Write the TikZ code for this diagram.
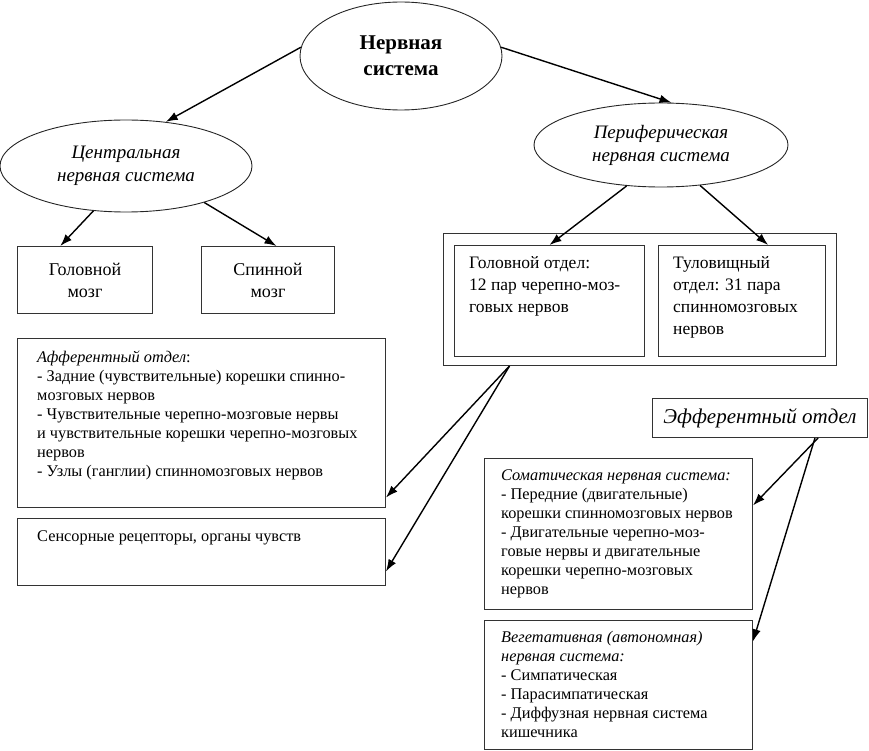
\documentclass[tikz,border=0pt]{standalone}
\usepackage{fontspec}
\setmainfont{Liberation Serif}
\usetikzlibrary{arrows.meta,shapes.geometric}

\tikzset{
  oval/.style={draw=black!85, line width=0.9pt, ellipse, inner sep=0pt, align=center},
  box/.style={draw=black!80, line width=1pt, rectangle, inner sep=0pt, anchor=north west},
  txt/.style={inner sep=0pt, anchor=north west, align=left},
  arr/.style={line width=1.4pt, -{Latex[length=12pt,width=8.5pt]}}
}

\begin{document}
\begin{tikzpicture}[x=1pt, y=-1pt]
			%%%%% START %%%%%
			\useasboundingbox (0,0) rectangle (869,751);
			
			% ellipses
			\node[oval, minimum width=202pt, minimum height=108pt, font=\fontsize{21}{26}\selectfont\bfseries] (nervsys) at (401,56)
				{Нервная\\система};
			\node[oval, minimum width=252pt, minimum height=92pt, font=\fontsize{19}{23}\selectfont\itshape] (cns) at (126,166)
				{Центральная\\нервная система};
			\node[oval, minimum width=254pt, minimum height=84pt, font=\fontsize{19}{23}\selectfont\itshape] (pns) at (661,145)
				{Периферическая\\нервная система};
			
			% brain and spine
			\node[box, minimum width=135pt, minimum height=67pt, align=center, font=\fontsize{18}{22}\selectfont] (brain) at (17,246)
				{Головной\\мозг};
			\node[box, minimum width=133pt, minimum height=67pt, align=center, font=\fontsize{18}{22}\selectfont] (spine) at (201,246)
				{Спинной\\мозг};
			
			% peripheral divisions
			\node[box, minimum width=393pt, minimum height=132pt] (pnsouter) at (443,233) {};
			\node[box, minimum width=190pt, minimum height=111pt] (headdiv) at (454,245) {};
			\node[box, minimum width=167pt, minimum height=111pt] (trunkdiv) at (658,245) {};
			\node[txt, font=\fontsize{17.5}{22}\selectfont] (headtxt) at ([xshift=15pt,yshift=-11pt]headdiv.north west)
				{Головной отдел:\\12 пар черепно-моз-\\говых нервов};
			\node[txt, font=\fontsize{17.5}{22}\selectfont] (trunktxt) at ([xshift=15pt,yshift=-11pt]trunkdiv.north west)
				{Туловищный\\отдел: 31 пара\\спинномозговых\\нервов};
			
			% afferent side
			\node[box, minimum width=368pt, minimum height=169pt] (afferent) at (17,338) {};
			\node[txt, font=\fontsize{16.3}{19}\selectfont] (afftxt) at ([xshift=20pt,yshift=-13pt]afferent.north west)
				{\textit{Афферентный отдел}:\\
				- Задние (чувствительные) корешки спинно-\\
				мозговых нервов\\
				- Чувствительные черепно-мозговые нервы\\
				и чувствительные корешки черепно-мозговых\\
				нервов\\
				- Узлы (ганглии) спинномозговых нервов};
			\node[box, minimum width=368pt, minimum height=67pt] (sensory) at (17,518) {};
			\node[txt, font=\fontsize{16.3}{19}\selectfont] (senstxt) at ([xshift=20pt,yshift=-13pt]sensory.north west)
				{Сенсорные рецепторы, органы чувств};
			
			% efferent side
			\node[box, minimum width=215pt, minimum height=39pt, font=\fontsize{21}{25}\selectfont\itshape] (efferent) at (652,398)
				{\makebox[215pt]{Эфферентный отдел}};
			\node[box, minimum width=268pt, minimum height=151pt] (somatic) at (484,458) {};
			\node[txt, font=\fontsize{16.3}{19}\selectfont] (somtxt) at ([xshift=17pt,yshift=-12pt]somatic.north west)
				{\textit{Соматическая нервная система:}\\
				- Передние (двигательные)\\
				корешки спинномозговых нервов\\
				- Двигательные черепно-моз-\\
				говые нервы и двигательные\\
				корешки черепно-мозговых\\
				нервов};
			\node[box, minimum width=268pt, minimum height=129pt] (vegetative) at (484,620) {};
			\node[txt, font=\fontsize{16.3}{19}\selectfont] (vegtxt) at ([xshift=17pt,yshift=-11pt]vegetative.north west)
				{\textit{Вегетативная (автономная)}\\
				\textit{нервная система:}\\
				- Симпатическая\\
				- Парасимпатическая\\
				- Диффузная нервная система\\
				кишечника};
			
			% arrows
			\draw[arr] (nervsys.175) -- (cns.48);
			\draw[arr] (nervsys.5) -- (pns.76);
			\draw[arr] (cns.234) -- (brain.126);
			\draw[arr] (cns.335) -- (spine.76);
			\draw[arr] (pns.230) -- (headdiv.north);
			\draw[arr] (pns.314) -- (trunkdiv.65);
			\draw[arr] (pnsouter.207) -- (afferent.338);
			\draw[arr] (pnsouter.207) -- (sensory.354);
			\draw[arr] (efferent.341) -- (somatic.12);
			\draw[arr] (efferent.340) -- (vegetative.18);
			%%%%% END %%%%%
\end{tikzpicture}
\end{document}
